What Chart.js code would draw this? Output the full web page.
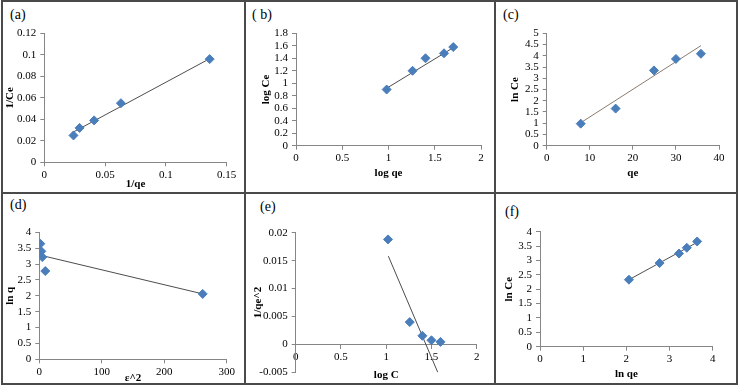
<!DOCTYPE html>
<html>
<head>
<meta charset="utf-8">
<script src="https://cdn.jsdelivr.net/npm/chart.js@4"></script>
<style>
  body { margin: 0; width: 740px; height: 387px; background: #fff; position: relative; overflow: hidden;
         font-family: 'Liberation Serif', 'Times New Roman', serif; }
  canvas { position: absolute; }
  .rule { position: absolute; background: #4a4a4a; }
  .tag { position: absolute; font-size: 14px; line-height: 16px; color: #000; }
</style>
</head>
<body>
<div class="rule" style="left:1px;top:0;width:737px;height:2px"></div>
<div class="rule" style="left:1px;top:383px;width:737px;height:2px"></div>
<div class="rule" style="left:1px;top:0;width:2px;height:385px"></div>
<div class="rule" style="left:736px;top:0;width:2px;height:385px"></div>
<div class="rule" style="left:244px;top:0;width:2px;height:385px"></div>
<div class="rule" style="left:494px;top:0;width:2px;height:385px"></div>
<div class="rule" style="left:1px;top:192px;width:737px;height:2px"></div>

<div class="tag" style="left:10px;top:7px">(a)</div>
<div class="tag" style="left:252px;top:7px">( b)</div>
<div class="tag" style="left:503px;top:7px">(c)</div>
<div class="tag" style="left:10px;top:197px">(d)</div>
<div class="tag" style="left:260px;top:199px">(e)</div>
<div class="tag" style="left:505px;top:204px">(f)</div>

<script>
// (a) 1/Ce vs 1/qe
const aX = [0.024, 0.029, 0.041, 0.063, 0.136];
const aY = [0.025, 0.032, 0.039, 0.055, 0.096];
const aFitX = [0.023, 0.137];
const aFitY = [0.0276, 0.097];

// (b) log Ce vs log qe
const bX = [0.98, 1.26, 1.40, 1.60, 1.70];
const bY = [0.90, 1.20, 1.40, 1.48, 1.58];
const bFitX = [0.98, 1.70];
const bFitY = [0.92, 1.57];

// (c) ln Ce vs qe
const cX = [7.9, 16.0, 24.9, 30.0, 35.8];
const cY = [0.98, 1.65, 3.35, 3.86, 4.09];
const cFitX = [7.9, 35.8];
const cFitY = [1.02, 4.45];

// (d) ln q vs e^2
const dX = [1.6, 3.2, 4.8, 9.6, 261.6];
const dY = [3.64, 3.40, 3.22, 2.78, 2.06];
const dFitX = [1.6, 261.6];
const dFitY = [3.28, 2.06];

// (e) 1/qe^2 vs log C
const eX = [1.02, 1.26, 1.40, 1.50, 1.60];
const eY = [0.0188, 0.0040, 0.00155, 0.00075, 0.00046];
const eFitX = [1.024, 1.57];
const eFitY = [0.0158, -0.005];

// (f) ln Ce vs ln qe
const fX = [2.06, 2.77, 3.22, 3.40, 3.64];
const fY = [2.33, 2.91, 3.24, 3.44, 3.66];
const fFitX = [2.06, 3.64];
const fFitY = [2.33, 3.63];

const BLUE = '#4a7ebb';
const AXIS = '#868686';
const FAMILY = "'Liberation Serif', 'Times New Roman', serif";
const tickFont = { family: FAMILY, size: 11 };
const titleFont = { family: FAMILY, size: 11, weight: 'bold' };
const LH = 11 * 1.2;

function pts(xs, ys) {
  return xs.map((x, i) => ({ x, y: ys[i] }));
}
function fmt(v) {
  return String(Math.round(v * 1e6) / 1e6);
}

function makePanel(p) {
  const [L, T, W, H] = p.box;
  const cv = document.createElement('canvas');
  cv.width = W; cv.height = H;
  cv.style.left = L + 'px'; cv.style.top = T + 'px';
  cv.style.width = W + 'px'; cv.style.height = H + 'px';
  document.body.appendChild(cv);

  const left = p.plot[0] - L, top = p.plot[1] - T;
  const right = p.plot[2] - L, bottom = p.plot[3] - T;
  const atZero = p.xAtZero;

  new Chart(cv, {
    type: 'scatter',
    data: {
      datasets: [
        { data: pts(p.xs, p.ys), pointStyle: 'rectRot', pointRadius: 4.5,
          backgroundColor: BLUE, borderColor: BLUE, borderWidth: 1, order: 1 },
        { type: 'line', data: pts(p.fx, p.fy), borderColor: p.fitColor || '#4d4d4d',
          borderWidth: 1, pointRadius: 0, fill: false, order: 2 }
      ]
    },
    options: {
      responsive: false,
      animation: false,
      events: [],
      layout: { padding: { left: 0, top: top, right: W - right, bottom: atZero ? H - bottom : 0 } },
      plugins: { legend: { display: false }, tooltip: { enabled: false } },
      scales: {
        x: {
          type: 'linear', min: p.xr[0], max: p.xr[1],
          position: atZero ? { y: 0 } : 'bottom',
          ticks: { stepSize: p.xr[2], autoSkip: false, maxRotation: 0, padding: 2,
                   color: '#000', font: tickFont, callback: fmt },
          grid: { drawOnChartArea: false, drawTicks: true, tickLength: 4, color: AXIS },
          border: { color: AXIS },
          title: { display: true, text: p.xt, color: '#000', font: titleFont,
                   padding: { top: 0, bottom: H - (p.xTitleY - T) - LH / 2 } },
          afterFit: s => { s.height = atZero ? (p.xTitleY - p.zeroY) + LH / 2 : H - bottom; }
        },
        y: {
          type: 'linear', min: p.yr[0], max: p.yr[1],
          ticks: { stepSize: p.yr[2], autoSkip: false, padding: 4,
                   color: '#000', font: tickFont, callback: fmt },
          grid: { drawOnChartArea: false, drawTicks: true, tickLength: 4, color: AXIS },
          border: { color: AXIS },
          title: { display: true, text: p.yt, color: '#000', font: titleFont,
                   padding: { top: (p.yTitleX - L) - LH / 2, bottom: 0 } },
          afterFit: s => { s.width = left; }
        }
      }
    }
  });
}

function drawAll() {
  makePanel({ box: [3, 2, 241, 190], plot: [44.3, 33.3, 226.7, 162.3], xTitleY: 184, yTitleX: 10,
    xs: aX, ys: aY, fx: aFitX, fy: aFitY, xr: [0, 0.15, 0.05], yr: [0, 0.12, 0.02], xt: '1/qe', yt: '1/Ce' });
  makePanel({ box: [246, 2, 248, 190], plot: [296, 33.3, 481, 145.7], xTitleY: 173, yTitleX: 265.7,
    xs: bX, ys: bY, fx: bFitX, fy: bFitY, xr: [0, 2, 0.5], yr: [0, 1.8, 0.2], xt: 'log qe', yt: 'log Ce' });
  makePanel({ box: [496, 2, 240, 190], plot: [546.7, 33.3, 719, 145.7], xTitleY: 173, yTitleX: 515,
    xs: cX, ys: cY, fx: cFitX, fy: cFitY, xr: [0, 40, 10], yr: [0, 5, 0.5], xt: 'qe', yt: 'ln Ce',
    fitColor: '#8a7b70' });
  makePanel({ box: [3, 194, 241, 189], plot: [39.3, 232.3, 226.7, 359.3], xTitleY: 378, yTitleX: 10,
    xs: dX, ys: dY, fx: dFitX, fy: dFitY, xr: [0, 300, 100], yr: [0, 4, 0.5], xt: 'ε^2', yt: 'ln q' });
  makePanel({ box: [246, 194, 248, 189], plot: [295.7, 232.7, 476.7, 378.3], xTitleY: 378, yTitleX: 258,
    xs: eX, ys: eY, fx: eFitX, fy: eFitY, xr: [0, 2, 0.5], yr: [-0.005, 0.02, 0.005], xt: 'log C', yt: '1/qe^2',
    xAtZero: true, zeroY: 349 });
  makePanel({ box: [496, 194, 240, 189], plot: [540, 231.7, 712.7, 346.7], xTitleY: 374, yTitleX: 509,
    xs: fX, ys: fY, fx: fFitX, fy: fFitY, xr: [0, 4, 1], yr: [0, 4, 0.5], xt: 'ln qe', yt: 'ln Ce' });
}

Promise.all([
  document.fonts.load('11px "Liberation Serif"'),
  document.fonts.load('bold 11px "Liberation Serif"')
]).then(drawAll, drawAll);
</script>
</body>
</html>
